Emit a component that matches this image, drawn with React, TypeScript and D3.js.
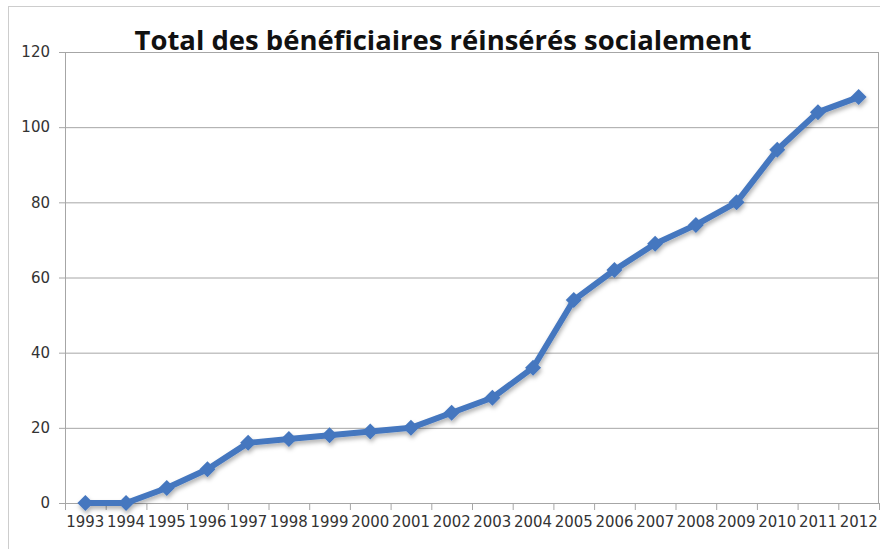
import React from "react";
import * as d3 from "d3";

const years = ["1993","1994","1995","1996","1997","1998","1999","2000","2001","2002","2003","2004","2005","2006","2007","2008","2009","2010","2011","2012"];
const values = [0,0,4,9,16,17,18,19,20,24,28,36,54,62,69,74,80,94,104,108];
const yTicks = [0,20,40,60,80,100,120];
const title = "Total des bénéficiaires réinsérés socialement";

export default function App() {
  const W = 880, H = 549;
  const left = 65, right = 879, top = 52, bottom = 503;
  const x = d3.scaleBand<string>().domain(years).range([left, right]).padding(0);
  const y = d3.scaleLinear().domain([0, 120]).range([bottom, top]);
  const cx = (yr: string) => (x(yr) as number) + x.bandwidth() / 2;
  const line = d3.line<number>().x((_, i) => cx(years[i])).y(d => y(d));
  const grid = "#a6a6a6";
  const blue = "#4577BF";
  const font = "'DejaVu Sans', sans-serif";
  return (
    <svg width={W} height={H} style={{ position: "absolute", left: 0, top: 0, background: "#fff" }}>
      <defs>
        <filter id="sh" x="-20%" y="-20%" width="140%" height="160%">
          <feDropShadow dx="1" dy="3" stdDeviation="2" floodColor="#000" floodOpacity="0.3" />
        </filter>
      </defs>
      <rect x={8.5} y={6.5} width={900} height={600} fill="#fff" stroke="#9a9a9a" strokeDasharray="1 1" />
      {yTicks.map(t => (
        <g key={t}>
          <line x1={left - 6} x2={right} y1={y(t) + 0.5} y2={y(t) + 0.5} stroke={grid} strokeWidth={1} />
          <text x={50} y={y(t)} dy="0.35em" textAnchor="end" fontFamily={font} fontSize={15} fill="#333">{t}</text>
        </g>
      ))}
      <line x1={left + 0.5} x2={left + 0.5} y1={top} y2={bottom + 7} stroke={grid} />
      <line x1={right - 0.5} x2={right - 0.5} y1={top} y2={bottom} stroke={grid} />
      {years.map(yr => (
        <line key={"t" + yr} x1={(x(yr) as number) + x.bandwidth() + 0.5} x2={(x(yr) as number) + x.bandwidth() + 0.5} y1={bottom} y2={bottom + 7} stroke={grid} />
      ))}
      {years.map(yr => (
        <text key={"l" + yr} x={cx(yr)} y={527} textAnchor="middle" fontFamily={font} fontSize={15} fill="#333" textLength={38} lengthAdjust="spacingAndGlyphs">{yr}</text>
      ))}
      <text x={443} y={50} textAnchor="middle" fontFamily="'Open Sans', sans-serif" fontWeight="bold" fontSize={27} fill="#111" textLength={617} lengthAdjust="spacingAndGlyphs">{title}</text>
      <g filter="url(#sh)">
        <path d={line(values) || ""} fill="none" stroke={blue} strokeWidth={6} strokeLinejoin="round" />
        {values.map((v, i) => {
          const px = cx(years[i]), py = y(v), r = 8;
          return <path key={i} d={`M${px},${py - r}L${px + r},${py}L${px},${py + r}L${px - r},${py}Z`} fill={blue} />;
        })}
      </g>
    </svg>
  );
}
